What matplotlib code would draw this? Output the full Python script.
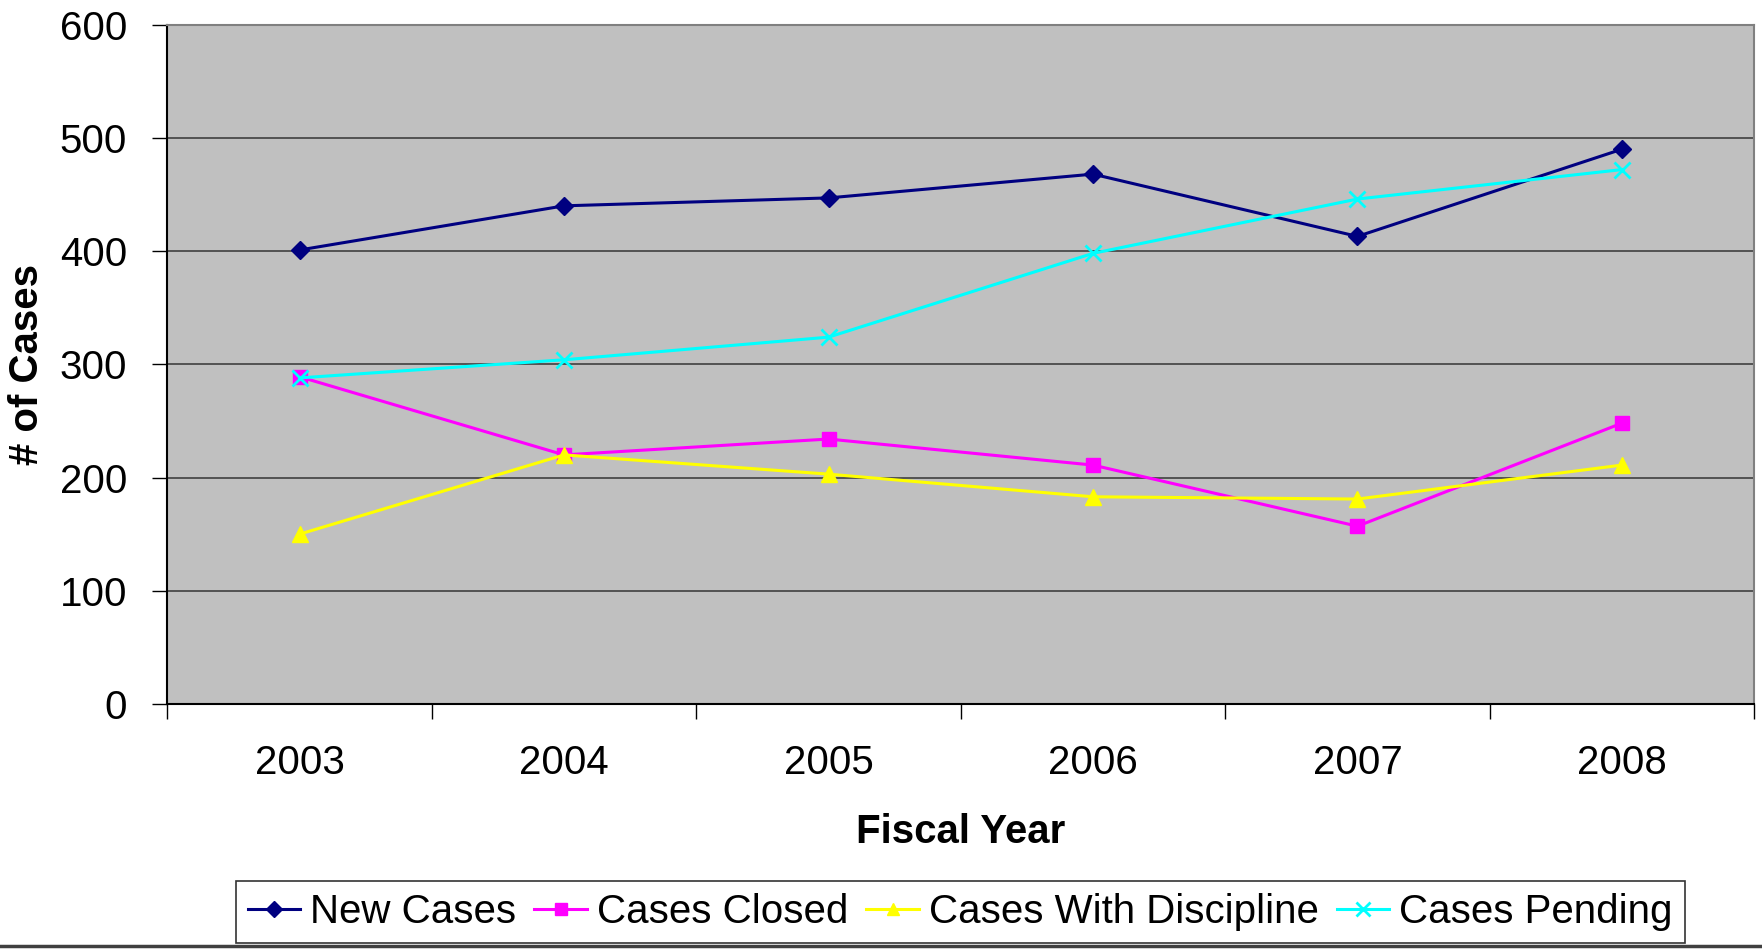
import matplotlib
matplotlib.use("Agg")
import matplotlib.pyplot as plt
from matplotlib.lines import Line2D

plt.rcParams['font.family'] = ['Liberation Sans', 'DejaVu Sans']

years = ["2003", "2004", "2005", "2006", "2007", "2008"]
new_cases = [401, 440, 447, 468, 413, 490]
cases_closed = [289, 220, 234, 211, 157, 248]
cases_discipline = [150, 220, 203, 183, 181, 211]
cases_pending = [288, 304, 324, 398, 446, 472]

fig = plt.figure(figsize=(17.62, 9.5), dpi=100)
ax = fig.add_axes([0.095, 0.259, 0.9005, 0.715])
ax.set_facecolor("#C0C0C0")

xpos = [i + 0.5 for i in range(len(years))]

ax.plot(xpos, new_cases, color="#000080", marker="D", markersize=9, lw=2.2, label="New Cases", zorder=3)
ax.plot(xpos, cases_closed, color="#FF00FF", marker="s", markersize=10, lw=2.2, label="Cases Closed", zorder=3)
ax.plot(xpos, cases_discipline, color="#FFFF00", marker="^", markersize=11, lw=2.2, label="Cases With Discipline", zorder=3)
ax.plot(xpos, cases_pending, color="#00FFFF", marker="x", markersize=12, mew=2, lw=2.2, label="Cases Pending", zorder=4)

ax.set_xlim(0, len(years))
ax.set_ylim(0, 600)
ax.set_yticks(range(0, 601, 100))
ax.yaxis.grid(True, color="#404040", lw=1.2)
ax.set_axisbelow(True)

ax.set_xticks(range(0, len(years) + 1))
ax.set_xticklabels([])
ax.set_xticks(xpos, minor=True)
ax.set_xticklabels(years, minor=True)
ax.tick_params(axis="x", which="major", length=11, width=1, color="black", direction="out")
ax.tick_params(axis="x", which="minor", length=0, pad=29, labelsize=29)
ax.tick_params(axis="y", length=11, width=1, direction="out", pad=18, labelsize=29)

for s in ["left", "bottom"]:
    ax.spines[s].set_color("black")
    ax.spines[s].set_linewidth(1.5)
for s in ["top", "right"]:
    ax.spines[s].set_color("#808080")
    ax.spines[s].set_linewidth(1.5)

ax.set_xlabel("Fiscal Year", fontsize=29, fontweight="bold", labelpad=22)
ax.set_ylabel("# of Cases", fontsize=29, fontweight="bold", labelpad=10)

leg = fig.legend(loc="center", bbox_to_anchor=(0.545, 0.040), ncol=4, fontsize=29,
                 frameon=True, fancybox=False, edgecolor="black", handlelength=1.3,
                 handletextpad=0.25, columnspacing=0.45, borderpad=0.3, markerscale=0.85)
leg.get_frame().set_linewidth(1.2)

fig.add_artist(Line2D([0, 1], [0.004, 0.004], transform=fig.transFigure, color="#404040", lw=2.5))

fig.savefig("out.png", dpi=100, facecolor="white")
